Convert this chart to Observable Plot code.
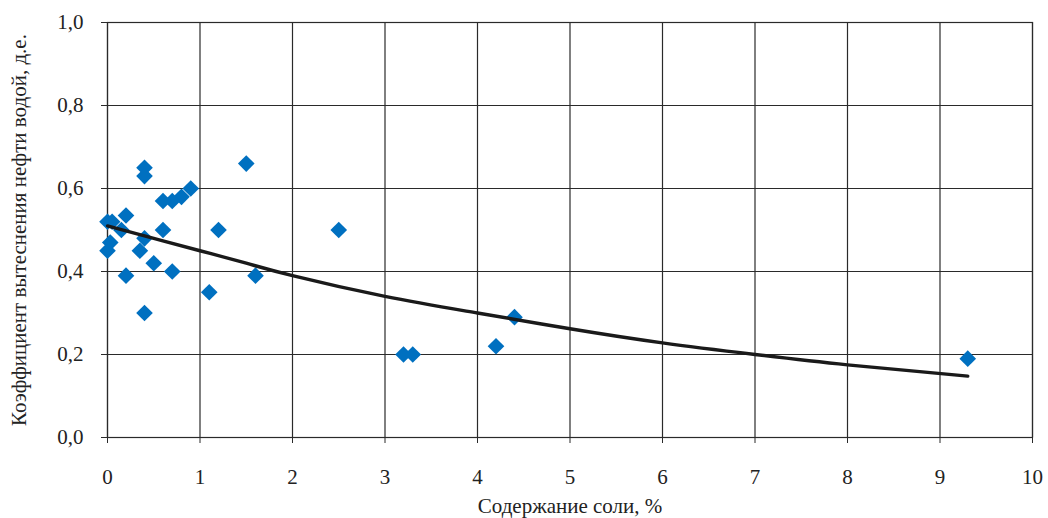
<!DOCTYPE html>
<html><head><meta charset="utf-8">
<script src="https://cdn.jsdelivr.net/npm/d3@7"></script>
<script src="https://cdn.jsdelivr.net/npm/@observablehq/plot@0.6"></script>
<style>
body{margin:0;background:#fff;}
#chart svg{display:block;}
#chart svg text{font-family:'Liberation Serif','Times New Roman',serif !important;font-size:21px !important;fill:#222;}
</style>
</head><body><div id="chart"></div>
<script>
const saltX = [0.4,0.4,0.9,0.8,0.7,0.6,0.2,0,0.05,0.15,0.4,0.6,0.03,0,0.35,0.5,0.7,0.2,0.4,1.1,1.2,1.5,2.5,1.6,3.2,3.3,4.2,4.4,9.3];
const coefY = [0.65,0.63,0.60,0.58,0.57,0.57,0.535,0.52,0.52,0.50,0.48,0.50,0.47,0.45,0.45,0.42,0.40,0.39,0.30,0.35,0.50,0.66,0.50,0.39,0.20,0.20,0.22,0.29,0.19];
const trendX = [0,0.5,1,1.5,2,3,4,5,6,7,8,9.3];
const trendY = [0.51,0.48,0.45,0.42,0.39,0.34,0.30,0.262,0.228,0.20,0.175,0.148];
const xTicks = [0,1,2,3,4,5,6,7,8,9,10];
const yTicks = [0,0.2,0.4,0.6,0.8,1.0];

const points = saltX.map((x,i)=>({x, y: coefY[i]}));
const trend = trendX.map((x,i)=>({x, y: trendY[i]}));
const fmt = d => d.toFixed(1).replace(".", ",");

const chart = Plot.plot({
  width: 1048, height: 518,
  marginLeft: 107, marginRight: 16, marginTop: 22, marginBottom: 81,
  style: {background: "#fff"},
  x: {domain: [0,10]},
  y: {domain: [0,1]},
  marks: [
    Plot.gridX(xTicks, {stroke: "#2a2a2a", strokeOpacity: 1, strokeWidth: 1.2}),
    Plot.gridY(yTicks, {stroke: "#2a2a2a", strokeOpacity: 1, strokeWidth: 1.2}),
    Plot.frame({stroke: "#2a2a2a", strokeWidth: 1.2}),
    Plot.axisX({ticks: xTicks, tickFormat: d => String(d), tickSize: 6, tickPadding: 26, stroke: "#2a2a2a", label: "Содержание соли, %", labelAnchor: "center", labelArrow: "none", labelOffset: 75}),
    Plot.axisY({ticks: yTicks, tickFormat: fmt, tickSize: 6, tickPadding: 18, stroke: "#2a2a2a", label: "Коэффициент вытеснения нефти водой, д.е.", labelAnchor: "center", labelArrow: "none", labelOffset: 96}),
    Plot.dot(points, {x: "x", y: "y", symbol: "diamond2", r: 7.5, fill: "#0070C0", stroke: "none"}),
    Plot.line(trend, {x: "x", y: "y", stroke: "#1a1a1a", strokeWidth: 3.4, curve: "natural"})
  ]
});
document.getElementById("chart").appendChild(chart);
</script>
</body></html>
